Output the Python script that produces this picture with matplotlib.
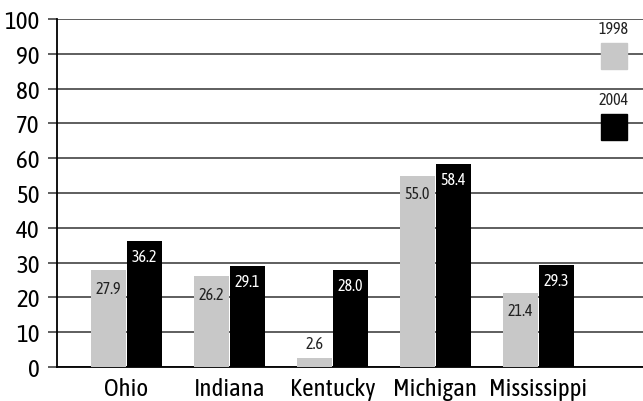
import matplotlib
matplotlib.use("Agg")
import matplotlib.pyplot as plt
import numpy as np
from matplotlib.patches import Rectangle

states = ["Ohio", "Indiana", "Kentucky", "Michigan", "Mississippi"]
v1998 = [27.9, 26.2, 2.6, 55.0, 21.4]
v2004 = [36.2, 29.1, 28.0, 58.4, 29.3]
years = ["1998", "2004"]

plt.rcParams['font.family'] = ['Asap Condensed', 'DejaVu Sans']

gray = '#c8c8c8'
fig = plt.figure(figsize=(6.43, 4.02), dpi=100)
ax = fig.add_axes([57/643, 34/402, 586/643, 348/402])

x = np.arange(len(states))
width = 0.34
gap = 0.005
b1 = ax.bar(x - width/2 - gap, v1998, width, color=gray, zorder=3)
b2 = ax.bar(x + width/2 + gap, v2004, width, color='black', zorder=3)

for rect, v in zip(b1, v1998):
    cx = rect.get_x() + rect.get_width()/2
    if v > 8:
        ax.annotate(f"{v:.1f}", (cx, v), xytext=(0, -7), textcoords='offset points',
                    ha='center', va='top', fontsize=11.5, color='#222222', zorder=4)
    else:
        ax.annotate(f"{v:.1f}", (cx, v), xytext=(0, 4), textcoords='offset points',
                    ha='center', va='bottom', fontsize=11.5, color='#222222', zorder=4)
for rect, v in zip(b2, v2004):
    cx = rect.get_x() + rect.get_width()/2
    ax.annotate(f"{v:.1f}", (cx, v), xytext=(0, -5), textcoords='offset points',
                ha='center', va='top', fontsize=11.5, color='white', zorder=4)

ax.set_xlim(-0.674, 5.016)
ax.set_ylim(0, 100)
ax.set_yticks(np.arange(0, 101, 10))
ax.set_xticks(x, states)
ax.tick_params(axis='y', length=6.5, width=1.1, color='#333333', pad=6, labelsize=18)
ax.tick_params(axis='x', length=0, pad=7, labelsize=18)
ax.yaxis.grid(True, color='#333333', linewidth=1.1, zorder=0)
ax.set_axisbelow(True)
for s in ['top', 'right']:
    ax.spines[s].set_visible(False)
ax.spines['left'].set_linewidth(1.3)
ax.spines['bottom'].set_linewidth(1.3)

# legend drawn as small labelled squares at the right
for yr, col, ytop in zip(years, [gray, 'black'], [93.2, 72.8]):
    ax.add_patch(Rectangle((4.61, ytop - 7.5), 0.25, 7.5, color=col, zorder=3, clip_on=False))
    ax.text(4.735, ytop + 1.5, yr, ha='center', va='bottom', fontsize=11.5, color='#222222')

fig.savefig("out.png", dpi=100)
